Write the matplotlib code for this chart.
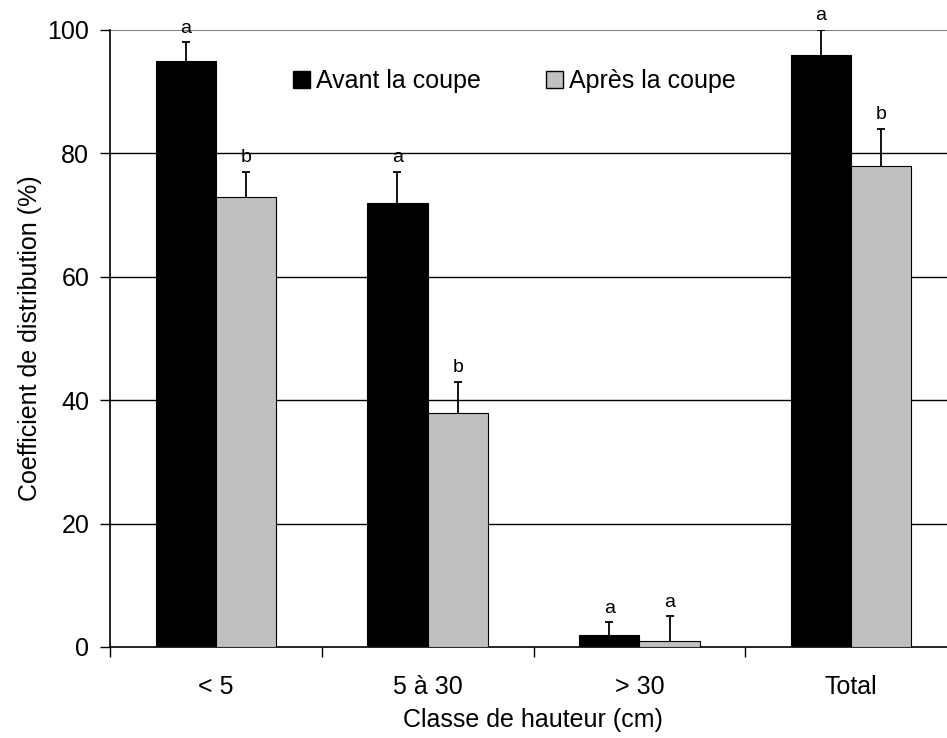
import matplotlib
matplotlib.use("Agg")
import matplotlib.pyplot as plt
import numpy as np
from matplotlib.patches import Patch

plt.rcParams['font.family'] = ['Liberation Sans', 'DejaVu Sans']

categories = ["< 5", "5 à 30", "> 30", "Total"]
avant = [95, 72, 2, 96]
apres = [73, 38, 1, 78]
avant_err = [3, 5, 2, 4]
apres_err = [4, 5, 4, 6]
avant_letters = ["a", "a", "a", "a"]
apres_letters = ["b", "b", "a", "b"]

fig = plt.figure(figsize=(9.47, 7.38), dpi=100)
W, H = 947, 738
left, right = 110, 957
top, bottom = 30, 647
ax = fig.add_axes([left / W, (H - bottom) / H, (right - left) / W, (bottom - top) / H])

x = np.arange(len(categories))
bw = 0.285
series = [
    (x - bw / 2, avant, avant_err, avant_letters, "black", "Avant la coupe"),
    (x + bw / 2, apres, apres_err, apres_letters, "#c0c0c0", "Après la coupe"),
]
for xs, vals, errs, letters, col, lab in series:
    ax.bar(xs, vals, bw, color=col, edgecolor="black", linewidth=0.8, zorder=3, label=lab)
    tops = np.array(vals) + np.array(errs)
    # upward-only error bars with a cap at the top
    ax.vlines(xs, vals, tops, color="black", linewidth=1.3, zorder=4)
    ax.plot(xs, tops, linestyle="none", marker="_", markersize=6.2,
            markeredgewidth=1.3, color="black", zorder=4)
    for xi, ti, lt in zip(xs, tops, letters):
        ax.annotate(lt, (xi, ti), xytext=(0, 4), textcoords="offset points",
                    ha="center", va="bottom", fontsize=14)

ax.set_xlim(-0.5, len(categories) - 0.5)
ax.set_ylim(0, 100)
ax.set_yticks([0, 20, 40, 60, 80, 100])
ax.tick_params(axis="y", labelsize=18, length=7, width=1, direction="out", pad=8)

# category boundaries as major ticks, labels centered on minor ticks
ax.set_xticks(np.arange(-0.5, len(categories), 1.0))
ax.set_xticklabels([])
ax.set_xticks(x, minor=True)
ax.set_xticklabels(categories, minor=True)
ax.tick_params(axis="x", which="major", length=7, width=1, direction="out")
ax.tick_params(axis="x", which="minor", length=0, labelsize=18, pad=20)

for yv in [20, 40, 60, 80]:
    ax.axhline(yv, color="black", linewidth=1, zorder=1)
ax.axhline(100, color="#808080", linewidth=1.5, zorder=1)

for s in ["top", "right"]:
    ax.spines[s].set_visible(False)
ax.spines["left"].set_linewidth(1.2)
ax.spines["bottom"].set_linewidth(1.2)

ax.set_ylabel("Coefficient de distribution (%)", fontsize=18, va="center")
ax.yaxis.set_label_coords((30 - left) / (right - left), 0.5)
ax.set_xlabel("Classe de hauteur (cm)", fontsize=18, va="center")
ax.xaxis.set_label_coords((533 - left) / (right - left), -(720 - bottom) / (bottom - top))

handles = [Patch(facecolor="black", edgecolor="black"),
           Patch(facecolor="#c0c0c0", edgecolor="black")]
ax.legend(handles, ["Avant la coupe", "Après la coupe"], ncol=2, frameon=False,
          fontsize=18, loc="center left", bbox_to_anchor=((293 - left) / (right - left), (bottom - 81) / (bottom - top)),
          borderpad=0, borderaxespad=0, handlelength=0.68, handleheight=0.66,
          handletextpad=0.25, columnspacing=2.6)

fig.savefig("out.png", dpi=100)
